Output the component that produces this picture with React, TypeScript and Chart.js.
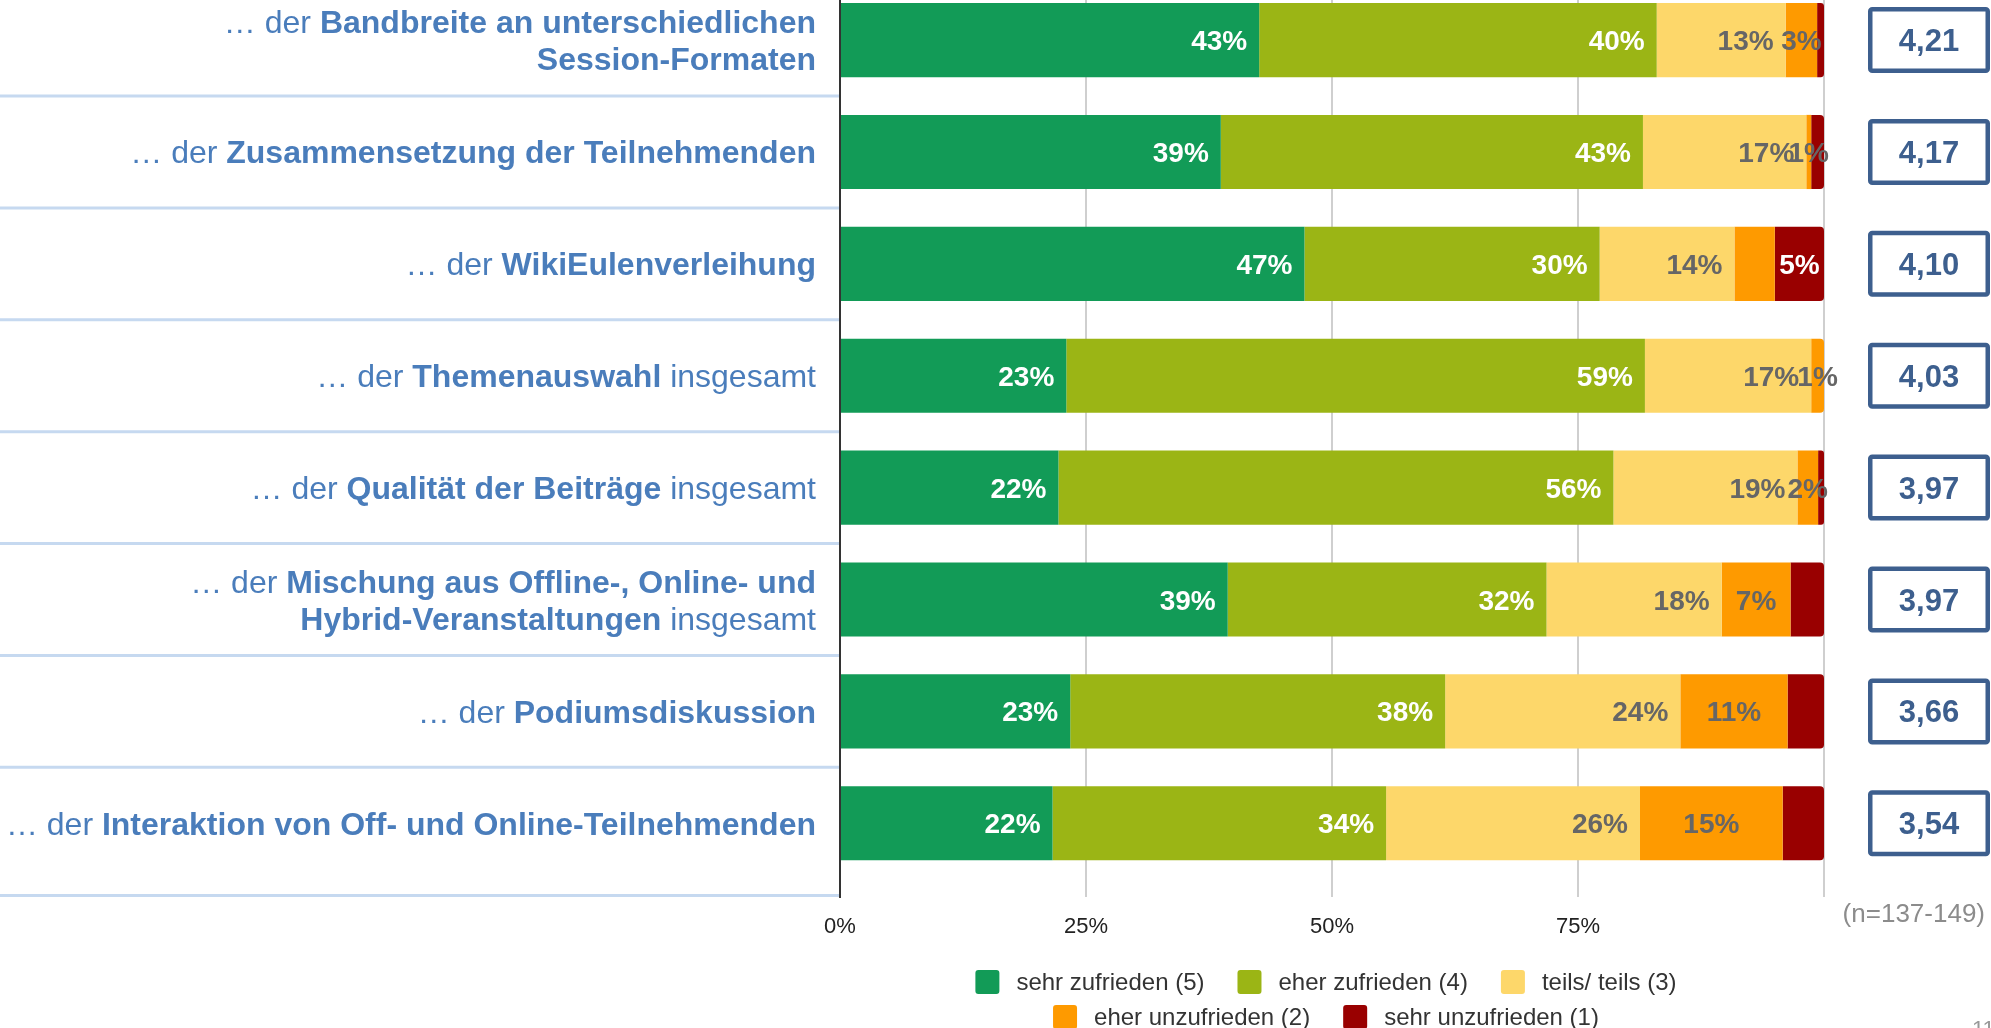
import React, { useEffect, useRef } from "react";
import { Chart, registerables } from "chart.js";

Chart.register(...registerables);

// ---------- data ----------
const categories = [
  "… der **Bandbreite an unterschiedlichen**\n**Session-Formaten**",
  "… der **Zusammensetzung der Teilnehmenden**",
  "… der **WikiEulenverleihung**",
  "… der **Themenauswahl** insgesamt",
  "… der **Qualität der Beiträge** insgesamt",
  "… der **Mischung aus Offline-, Online- und**\n**Hybrid-Veranstaltungen** insgesamt",
  "… der **Podiumsdiskussion**",
  "… der **Interaktion von Off- und Online-Teilnehmenden**",
];

const seriesNames = [
  "sehr zufrieden (5)",
  "eher zufrieden (4)",
  "teils/ teils (3)",
  "eher unzufrieden (2)",
  "sehr unzufrieden (1)",
];

const sehrZufrieden = [42.6, 38.7, 47.2, 23.0, 22.2, 39.4, 23.4, 21.6];
const eherZufrieden = [40.4, 42.9, 30.0, 58.8, 56.4, 32.4, 38.1, 33.9];
const teilsTeils = [13.1, 16.6, 13.7, 16.9, 18.7, 17.8, 23.9, 25.8];
const eherUnzufrieden = [3.2, 0.5, 4.1, 1.3, 2.1, 7.0, 10.9, 14.5];
const sehrUnzufrieden = [0.7, 1.3, 5.0, 0, 0.6, 3.4, 3.7, 4.2];

const sehrZufriedenLabels = ["43%", "39%", "47%", "23%", "22%", "39%", "23%", "22%"];
const eherZufriedenLabels = ["40%", "43%", "30%", "59%", "56%", "32%", "38%", "34%"];
const teilsTeilsLabels = ["13%", "17%", "14%", "17%", "19%", "18%", "24%", "26%"];
const eherUnzufriedenLabels = ["3%", "1%", "", "1%", "2%", "7%", "11%", "15%"];
const sehrUnzufriedenLabels = ["", "", "5%", "", "", "", "", ""];

const meanScores = ["4,21", "4,17", "4,10", "4,03", "3,97", "3,97", "3,66", "3,54"];

const xTickValues = [0, 25, 50, 75, 100];
const xTickLabels = ["0%", "25%", "50%", "75%", ""];

const sampleNote = "(n=137-149)";
const pageNumber = "11";

// ---------- styles ----------
const seriesColors = ["#129b57", "#9bb515", "#fdd76a", "#fe9a00", "#990000"];
const labelColors = ["#ffffff", "#ffffff", "#666666", "#666666", "#ffffff"];
const labelAlign = ["end", "end", "end", "center", "center"];
const FONT = '"Liberation Sans", Arial, sans-serif';
const f = (w: string, s: number) => `${w} ${s}px ${FONT}`;

const seriesValues = [sehrZufrieden, eherZufrieden, teilsTeils, eherUnzufrieden, sehrUnzufrieden];
const seriesLabels = [
  sehrZufriedenLabels,
  eherZufriedenLabels,
  teilsTeilsLabels,
  eherUnzufriedenLabels,
  sehrUnzufriedenLabels,
];

function parseLabel(s: string) {
  return s.split("\n").map((line) => {
    const parts: { t: string; b: boolean }[] = [];
    line.split("**").forEach((t, k) => {
      if (t) parts.push({ t, b: k % 2 === 1 });
    });
    return parts;
  });
}

const decorPlugin = {
  id: "decor",
  afterDatasetsDraw(chart: any) {
    const ctx = chart.ctx as CanvasRenderingContext2D;
    ctx.save();
    ctx.font = f("bold", 28);
    ctx.textBaseline = "alphabetic";
    chart.data.datasets.forEach((ds: any, d: number) => {
      const meta = chart.getDatasetMeta(d);
      meta.data.forEach((el: any, i: number) => {
        const txt = seriesLabels[d][i];
        if (!txt) return;
        const { x, base, y } = el.getProps(["x", "base", "y"], true);
        const l = Math.min(x, base);
        const r = Math.max(x, base);
        ctx.fillStyle = labelColors[d];
        if (labelAlign[d] === "end") {
          ctx.textAlign = "right";
          ctx.fillText(txt, r - 12, y + 10);
        } else {
          ctx.textAlign = "center";
          ctx.fillText(txt, (l + r) / 2, y + 10);
        }
      });
    });
    ctx.restore();
  },
  afterDraw(chart: any) {
    const ctx = chart.ctx as CanvasRenderingContext2D;
    const area = chart.chartArea;
    const yS = chart.scales.y;
    ctx.save();

    // separators on the left
    ctx.strokeStyle = "#c6d9f0";
    ctx.lineWidth = 3;
    const seps: number[] = [];
    for (let i = 0; i < categories.length - 1; i++) seps.push(yS.getPixelForValue(i + 0.5));
    seps.push(area.bottom - 1.5);
    seps.forEach((py) => {
      ctx.beginPath();
      ctx.moveTo(0, py);
      ctx.lineTo(area.left - 1, py);
      ctx.stroke();
    });

    // category labels
    ctx.fillStyle = "#4a7dbb";
    ctx.textBaseline = "alphabetic";
    ctx.textAlign = "left";
    categories.forEach((c, i) => {
      const lines = parseLabel(c);
      const cy = yS.getPixelForValue(i);
      const right = area.left - 24;
      lines.forEach((parts, j) => {
        const ly = cy + (j - (lines.length - 1) / 2) * 37 + 11.5;
        let total = 0;
        parts.forEach((p) => {
          ctx.font = f(p.b ? "bold" : "normal", 32);
          total += ctx.measureText(p.t).width;
        });
        let x = right - total;
        parts.forEach((p) => {
          ctx.font = f(p.b ? "bold" : "normal", 32);
          ctx.fillText(p.t, x, ly);
          x += ctx.measureText(p.t).width;
        });
      });
    });

    // mean score boxes
    meanScores.forEach((s, i) => {
      const cy = yS.getPixelForValue(i);
      const x0 = area.right + 44;
      const x1 = chart.width - 1;
      const h = 66;
      const lw = 4.5;
      ctx.strokeStyle = "#3d5f8e";
      ctx.lineWidth = lw;
      ctx.beginPath();
      (ctx as any).roundRect(x0 + lw / 2, cy - h / 2 + lw / 2, x1 - x0 - lw, h - lw, 2);
      ctx.stroke();
      ctx.fillStyle = "#3d5f8e";
      ctx.font = f("bold", 31);
      ctx.textAlign = "center";
      ctx.fillText(s, (x0 + x1) / 2, cy + 11);
    });

    // sample note
    ctx.fillStyle = "#8c8c8c";
    ctx.font = f("normal", 26);
    ctx.textAlign = "right";
    ctx.fillText(sampleNote, chart.width - 6, area.bottom + 25);

    // legend
    const rows = [[0, 1, 2], [3, 4]];
    const rowY = [area.bottom + 85, area.bottom + 120];
    const cx = (area.left + area.right) / 2 - 6;
    ctx.font = f("normal", 24);
    rows.forEach((row, r) => {
      const widths = row.map((k) => 24 + 17 + ctx.measureText(seriesNames[k]).width);
      const total = widths.reduce((a, b) => a + b, 0) + 33 * (row.length - 1);
      let x = cx - total / 2;
      const y = rowY[r];
      row.forEach((k, n) => {
        ctx.fillStyle = seriesColors[k];
        ctx.beginPath();
        (ctx as any).roundRect(x, y - 12, 24, 24, 3);
        ctx.fill();
        ctx.fillStyle = "#333333";
        ctx.textAlign = "left";
        ctx.fillText(seriesNames[k], x + 24 + 17, y + 8);
        x += widths[n] + 33;
      });
    });

    // page number (cut off at the bottom edge)
    ctx.fillStyle = "#999999";
    ctx.font = f("normal", 22);
    ctx.textAlign = "left";
    ctx.fillText(pageNumber, chart.width - 19, chart.height + 8);

    ctx.restore();
  },
};

export default function App() {
  const ref = useRef<HTMLCanvasElement | null>(null);

  useEffect(() => {
    document.body.style.margin = "0";
    if (!ref.current) return;
    const chart = new Chart(ref.current, {
      type: "bar",
      data: {
        datasets: seriesNames.map((name, d) => ({
          label: name,
          data: seriesValues[d].map((v, i) => ({ x: v, y: i })),
          backgroundColor: seriesColors[d],
          borderWidth: 0,
          borderRadius: 4,
          stack: "s",
          categoryPercentage: 1,
          barPercentage: 0.663,
        })),
      },
      options: {
        indexAxis: "y",
        responsive: false,
        animation: false,
        devicePixelRatio: 1,
        layout: { padding: { left: 840, right: 167, top: 0, bottom: 70.6 } },
        plugins: {
          legend: { display: false },
          tooltip: { enabled: false },
        },
        scales: {
          x: {
            type: "linear",
            stacked: true,
            min: 0,
            max: 100,
            offset: false,
            afterBuildTicks: (s: any) => {
              s.ticks = xTickValues.map((v) => ({ value: v }));
            },
            ticks: {
              callback: (_v: any, i: number) => xTickLabels[i],
              font: { family: FONT, size: 22 },
              color: "#222222",
              padding: 17,
              maxRotation: 0,
              autoSkip: false,
            },
            grid: { color: "#cfcfcf", lineWidth: 2, drawTicks: false },
            border: { display: false },
          },
          y: {
            type: "linear",
            stacked: true,
            reverse: true,
            offset: false,
            min: -0.3583,
            max: 7.659,
            afterBuildTicks: (s: any) => {
              s.ticks = categories.map((_c, i) => ({ value: i }));
            },
            ticks: { display: false },
            grid: { display: false, drawTicks: false, offset: false },
            border: { display: true, color: "#333333", width: 2 },
          },
        },
      },
      plugins: [decorPlugin],
    } as any);
    return () => chart.destroy();
  }, []);

  return (
    <div style={{ position: "absolute", left: 0, top: 0, width: 1991, height: 1028, background: "#fff" }}>
      <canvas ref={ref} width={1991} height={1028} style={{ display: "block" }} />
    </div>
  );
}
